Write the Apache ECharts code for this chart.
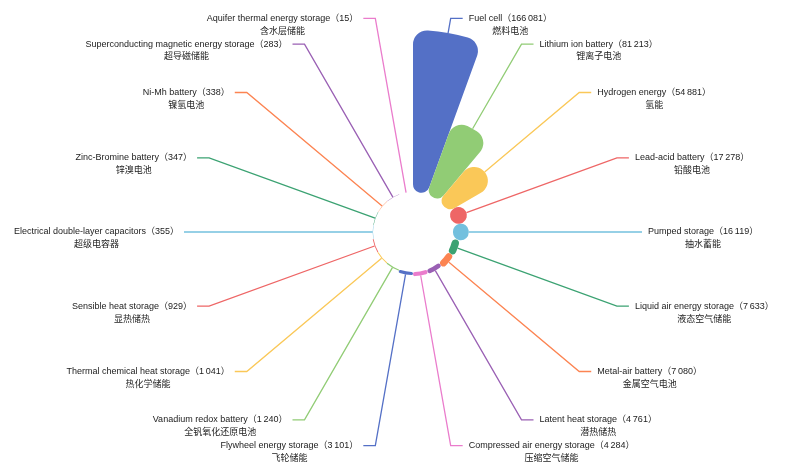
<!DOCTYPE html>
<html>
<head>
<meta charset="utf-8">
<script src="https://cdn.jsdelivr.net/npm/echarts@6/dist/echarts.min.js"></script>
<style>
html,body{margin:0;padding:0;background:#fff;}
#c{width:790px;height:465px;}
</style>
</head>
<body>
<div id="c"></div>
<script>
var namesEn = ['Fuel cell', 'Lithium ion battery', 'Hydrogen energy', 'Lead-acid battery', 'Pumped storage',
  'Liquid air energy storage', 'Metal-air battery', 'Latent heat storage', 'Compressed air energy storage',
  'Flywheel energy storage', 'Vanadium redox battery', 'Thermal chemical heat storage', 'Sensible heat storage',
  'Electrical double-layer capacitors', 'Zinc-Bromine battery', 'Ni-Mh battery',
  'Superconducting magnetic energy storage', 'Aquifer thermal energy storage'];
var namesZh = ['燃料电池', '锂离子电池', '氢能', '铅酸电池', '抽水蓄能', '液态空气储能', '金属空气电池', '潜热储热',
  '压缩空气储能', '飞轮储能', '全钒氧化还原电池', '热化学储能', '显热储热', '超级电容器', '锌溴电池', '镍氢电池',
  '超导磁储能', '含水层储能'];
var values = [166081, 81213, 54881, 17278, 16119, 7633, 7080, 4761, 4284, 3101, 1240, 1041, 929, 355, 347, 338, 283, 15];
var colors = ['#5470c6', '#91cc75', '#fac858', '#ee6666', '#73c0de', '#3ba272', '#fc8452', '#9a60b4', '#ea7ccc'];

function fmt(v) {
  return String(v).replace(/\B(?=(\d{3})+(?!\d))/g, '\u2009');
}

var data = values.map(function (v, i) {
  return { value: v, name: namesEn[i], zh: namesZh[i] };
});

var chart = echarts.init(document.getElementById('c'), null, { renderer: 'canvas' });
chart.setOption({
  animation: false,
  color: colors,
  series: [{
    type: 'pie',
    roseType: 'area',
    center: [413, 232],
    radius: [40, 202],
    startAngle: 90,
    avoidLabelOverlap: false,
    itemStyle: { borderRadius: 14 },
    label: {
      show: true,
      position: 'outside',
      padding: [12, 0, 0, 1],
      formatter: function (p) {
        return '{a|' + p.name + '（' + fmt(p.value) + '）}\n{b|' + p.data.zh + '}';
      },
      rich: {
        a: { align: 'center', fontSize: 9, lineHeight: 12, color: '#222', fontFamily: "'Liberation Sans','Noto Sans CJK SC',sans-serif" },
        b: { align: 'center', fontSize: 9, lineHeight: 12, color: '#222', fontFamily: "'Noto Sans CJK SC','Liberation Sans',sans-serif" }
      }
    },
    labelLine: {
      show: true,
      length: 15,
      length2: 12,
      lineStyle: { width: 1.3 }
    },
    data: data
  }]
});
</script>
</body>
</html>
